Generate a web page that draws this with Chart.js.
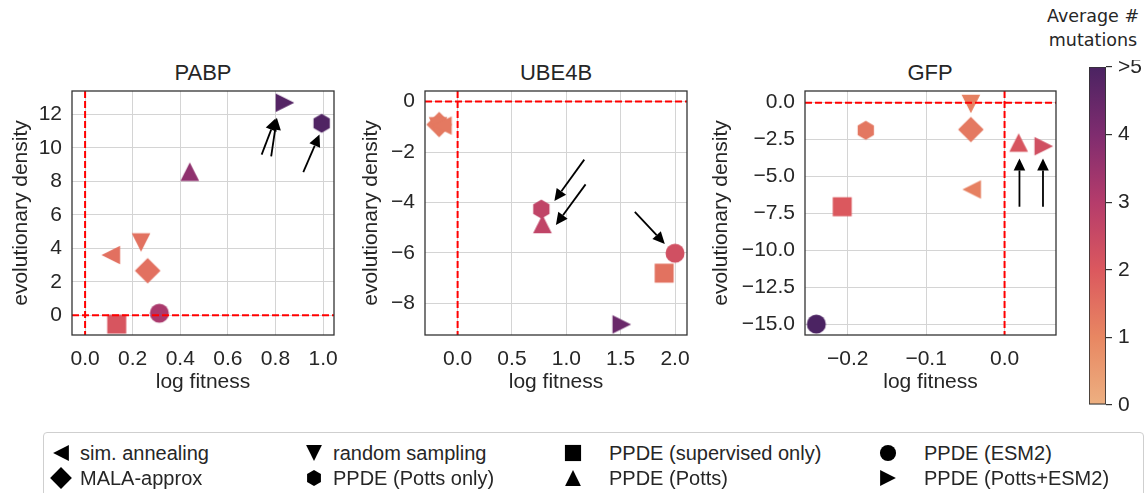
<!DOCTYPE html>
<html>
<head>
<meta charset="utf-8">
<script src="https://cdn.jsdelivr.net/npm/chart.js@4.4.1/dist/chart.umd.min.js"></script>
<style>
  body { margin: 0; background: #fff; width: 1147px; height: 493px; overflow: hidden; position: relative;
         font-family: "Liberation Sans", Arial, sans-serif; color: #262626; }
  canvas { position: absolute; }
  .ttl { position: absolute; width: 200px; text-align: center; font-size: 22px; line-height: 24px; }
  #cbtitle { position: absolute; left: 1033px; top: 4px; width: 120px; text-align: center;
             font-family: "DejaVu Sans", sans-serif; font-size: 17.5px; line-height: 24px; }
  #legend { position: absolute; left: 43px; top: 432px; width: 1099px; height: 80px;
            border: 1px solid #cfcfcf; border-radius: 4px; }
  .lt { position: absolute; font-size: 20px; line-height: 24px; white-space: nowrap; transform: translateY(-50%); }
</style>
</head>
<body>
<div class="ttl" style="left:103px;top:61px">PABP</div>
<div class="ttl" style="left:456px;top:61px">UBE4B</div>
<div class="ttl" style="left:830px;top:61px">GFP</div>
<div id="cbtitle">Average #<br>mutations</div>
<canvas id="c1" width="350" height="320" style="left:0;top:80px"></canvas>
<canvas id="c2" width="350" height="320" style="left:350px;top:80px"></canvas>
<canvas id="c3" width="370" height="320" style="left:700px;top:80px"></canvas>
<canvas id="cb" width="77" height="360" style="left:1070px;top:60px"></canvas>
<div id="legend"></div>

<script>
// methods, in legend order (row by row)
const methods = ['sim. annealing', 'random sampling', 'PPDE (supervised only)', 'PPDE (ESM2)',
                 'MALA-approx', 'PPDE (Potts only)', 'PPDE (Potts)', 'PPDE (Potts+ESM2)'];
const markers = ['triLeft', 'triDown', 'square', 'circle', 'diamond', 'hexagon', 'triUp', 'triRight'];

// PABP
const pabpFitness   = [0.108, 0.235, 0.133, 0.312, 0.263, 0.994, 0.44, 0.84];
const pabpDensity   = [3.6, 4.35, -0.53, 0.12, 2.66, 11.47, 8.58, 12.7];
const pabpMutations = [1.5, 1.45, 2.1, 3.2, 1.5, 4.9, 3.7, 4.8];
const pabpArrowFrom = [[0.742, 9.6], [0.782, 9.5], [0.917, 8.55]];
const pabpArrowTo   = [[0.80, 11.76], [0.806, 11.8], [0.985, 10.8]];

// UBE4B
const ube4bFitness   = [-0.14, -0.18, 1.90, 2.0, -0.17, 0.77, 0.78, 1.51];
const ube4bDensity   = [-0.95, -0.98, -6.8, -6.01, -0.91, -4.26, -4.85, -8.83];
const ube4bMutations = [1.3, 1.3, 1.45, 2.3, 1.3, 2.7, 2.7, 4.4];
const ube4bArrowFrom = [[1.165, -2.30], [1.177, -3.28], [1.63, -4.37]];
const ube4bArrowTo   = [[0.89, -3.94], [0.904, -4.89], [1.906, -5.64]];

// GFP
const gfpFitness   = [-0.042, -0.043, -0.207, -0.240, -0.043, -0.177, 0.018, 0.050];
const gfpDensity   = [-5.88, -0.09, -7.05, -15.0, -1.82, -1.87, -2.7, -2.95];
const gfpMutations = [1.15, 1.15, 2.0, 5.0, 1.3, 1.35, 2.1, 2.3];
const gfpArrowFrom = [[0.019, -7.05], [0.049, -7.05]];
const gfpArrowTo   = [[0.019, -3.78], [0.049, -3.78]];

// axis ticks
const pabpXTicks = [0, 0.2, 0.4, 0.6, 0.8, 1.0];
const pabpXLabels = ['0.0', '0.2', '0.4', '0.6', '0.8', '1.0'];
const pabpYTicks = [0, 2, 4, 6, 8, 10, 12];
const pabpYLabels = ['0', '2', '4', '6', '8', '10', '12'];
const ube4bXTicks = [0, 0.5, 1.0, 1.5, 2.0];
const ube4bXLabels = ['0.0', '0.5', '1.0', '1.5', '2.0'];
const ube4bYTicks = [-8, -6, -4, -2, 0];
const ube4bYLabels = ['\u22128', '\u22126', '\u22124', '\u22122', '0'];
const gfpXTicks = [-0.2, -0.1, 0.0];
const gfpXLabels = ['\u22120.2', '\u22120.1', '0.0'];
const gfpYTicks = [-15, -12.5, -10, -7.5, -5, -2.5, 0];
const gfpYLabels = ['\u221215.0', '\u221212.5', '\u221210.0', '\u22127.5', '\u22125.0', '\u22122.5', '0.0'];
const cbTicks = [0, 1, 2, 3, 4, 5];
const cbLabels = ['0', '1', '2', '3', '4', '>5'];

// colour map (flare-like), value 0..5
const cmapStops = [[237, 176, 129], [232, 135, 98], [219, 88, 94], [181, 60, 107], [127, 44, 111], [75, 35, 98]];
function cmap(v) {
  v = Math.max(0, Math.min(5, v));
  const i = Math.min(4, Math.floor(v)), t = v - i;
  const a = cmapStops[i], b = cmapStops[i + 1];
  return 'rgb(' + a.map((c, k) => Math.round(c + (b[k] - c) * t)).join(',') + ')';
}

const halfSize = { circle: 9.5, square: 9.5, diamond: 12.8, triUp: 9.3, triDown: 9.3, triLeft: 9.3, triRight: 9.3, hexagon: 9.4 };

function markerPath(ctx, shape, cx, cy, s) {
  ctx.beginPath();
  if (shape === 'circle') { ctx.arc(cx, cy, s, 0, Math.PI * 2); return; }
  let pts;
  if (shape === 'square') pts = [[-s, -s], [s, -s], [s, s], [-s, s]];
  else if (shape === 'diamond') pts = [[0, -s], [s, 0], [0, s], [-s, 0]];
  else if (shape === 'triUp') pts = [[0, -s], [s, s], [-s, s]];
  else if (shape === 'triDown') pts = [[0, s], [s, -s], [-s, -s]];
  else if (shape === 'triLeft') pts = [[-s, 0], [s, -s], [s, s]];
  else if (shape === 'triRight') pts = [[s, 0], [-s, -s], [-s, s]];
  else if (shape === 'hexagon') pts = [0, 1, 2, 3, 4, 5].map(k => {
    const a = -Math.PI / 2 + k * Math.PI / 3; return [s * Math.cos(a), s * Math.sin(a)];
  });
  pts.forEach((p, k) => k ? ctx.lineTo(cx + p[0], cy + p[1]) : ctx.moveTo(cx + p[0], cy + p[1]));
  ctx.closePath();
}

const markerCache = {};
function markerCanvas(shape, color, scale) {
  const key = shape + color + scale;
  if (markerCache[key]) return markerCache[key];
  const c = document.createElement('canvas');
  c.width = 32; c.height = 32;
  const g = c.getContext('2d');
  g.fillStyle = color;
  markerPath(g, shape, 16, 16, halfSize[shape] * scale);
  g.fill();
  markerCache[key] = c;
  return c;
}

function decorPlugin(from, to) {
  return {
    id: 'decor',
    afterDatasetsDraw(chart) {
      const { ctx, chartArea: a, scales: { x, y } } = chart;
      ctx.save();
      // zero reference lines
      ctx.strokeStyle = '#ff0000';
      ctx.lineWidth = 2;
      ctx.setLineDash([7, 3]);
      const x0 = x.getPixelForValue(0), y0 = y.getPixelForValue(0);
      ctx.beginPath();
      ctx.moveTo(x0, a.top); ctx.lineTo(x0, a.bottom);
      ctx.moveTo(a.left, y0); ctx.lineTo(a.right, y0);
      ctx.stroke();
      ctx.setLineDash([]);
      // arrows
      ctx.strokeStyle = '#000'; ctx.fillStyle = '#000'; ctx.lineWidth = 1.8;
      from.forEach((f, i) => {
        const x1 = x.getPixelForValue(f[0]), y1 = y.getPixelForValue(f[1]);
        const x2 = x.getPixelForValue(to[i][0]), y2 = y.getPixelForValue(to[i][1]);
        const ang = Math.atan2(y2 - y1, x2 - x1), hl = 12, hw = 5.8;
        const bx = x2 - hl * Math.cos(ang), by = y2 - hl * Math.sin(ang);
        ctx.beginPath(); ctx.moveTo(x1, y1); ctx.lineTo(bx, by); ctx.stroke();
        ctx.beginPath();
        ctx.moveTo(x2, y2);
        ctx.lineTo(bx + hw * Math.sin(ang), by - hw * Math.cos(ang));
        ctx.lineTo(bx - hw * Math.sin(ang), by + hw * Math.cos(ang));
        ctx.closePath(); ctx.fill();
      });
      // frame
      ctx.strokeStyle = '#333';
      ctx.lineWidth = 1.3;
      ctx.strokeRect(a.left, a.top, a.width, a.height);
      ctx.restore();
    }
  };
}

const tickFont = { family: '"Liberation Sans", Arial, sans-serif', size: 21 };
const labelFont = { family: '"Liberation Sans", Arial, sans-serif', size: 21 };
const textColor = '#262626';
const gridColor = '#d4d4d4';

function panel(id, fit, dens, mut, xr, yr, xt, xl, yt, yl, yWidth, padRight, from, to) {
  const datasets = methods.map((m, i) => ({
    label: m,
    data: [{ x: fit[i], y: dens[i] }],
    pointStyle: markerCanvas(markers[i], cmap(mut[i]), 1),
    pointRadius: 10,
    clip: false
  }));
  new Chart(document.getElementById(id), {
    type: 'scatter',
    data: { datasets },
    options: {
      responsive: false,
      animation: false,
      events: [],
      layout: { padding: { top: 9, right: padRight, bottom: 0, left: 0 } },
      plugins: { legend: { display: false }, tooltip: { enabled: false } },
      scales: {
        x: {
          type: 'linear', min: xr[0], max: xr[1],
          afterBuildTicks: ax => { ax.ticks = xt.map(v => ({ value: v })); },
          afterFit: ax => { ax.height = 65; ax.paddingLeft = 0; ax.paddingRight = 0; },
          ticks: { callback: (v, i) => xl[i], font: tickFont, color: textColor, padding: 12, autoSkip: false, maxRotation: 0 },
          grid: { color: gridColor, lineWidth: 1, drawTicks: false },
          border: { display: false },
          title: { display: true, text: 'log fitness', font: labelFont, color: textColor, padding: { top: 0, bottom: 5 } }
        },
        y: {
          type: 'linear', min: yr[0], max: yr[1],
          afterBuildTicks: ax => { ax.ticks = yt.map(v => ({ value: v })); },
          afterFit: ax => { ax.width = yWidth; ax.paddingTop = 0; ax.paddingBottom = 0; },
          ticks: { callback: (v, i) => yl[i], font: tickFont, color: textColor, padding: 10, autoSkip: false },
          grid: { color: gridColor, lineWidth: 1, drawTicks: false },
          border: { display: false },
          title: { display: true, text: 'evolutionary density', font: labelFont, color: textColor, padding: { top: 9, bottom: 0 } }
        }
      }
    },
    plugins: [decorPlugin(from, to)]
  });
}

panel('c1', pabpFitness, pabpDensity, pabpMutations, [-0.055, 1.046], [-1.18, 13.4],
      pabpXTicks, pabpXLabels, pabpYTicks, pabpYLabels, 72, 16, pabpArrowFrom, pabpArrowTo);
panel('c2', ube4bFitness, ube4bDensity, ube4bMutations, [-0.30, 2.11], [-9.25, 0.42],
      ube4bXTicks, ube4bXLabels, ube4bYTicks, ube4bYLabels, 75, 13, ube4bArrowFrom, ube4bArrowTo);
panel('c3', gfpFitness, gfpDensity, gfpMutations, [-0.2545, 0.0656], [-15.74, 0.79],
      gfpXTicks, gfpXLabels, gfpYTicks, gfpYLabels, 105, 14, gfpArrowFrom, gfpArrowTo);

// colour bar
new Chart(document.getElementById('cb'), {
  type: 'bar',
  data: {
    labels: [''],
    datasets: [{
      data: [5],
      barPercentage: 1, categoryPercentage: 1,
      borderWidth: 1.2, borderColor: '#333', borderSkipped: false,
      backgroundColor: c => {
        const a = c.chart.chartArea;
        if (!a) return cmap(2.5);
        const g = c.chart.ctx.createLinearGradient(0, a.bottom, 0, a.top);
        cmapStops.forEach((s, k) => g.addColorStop(k / 5, 'rgb(' + s.join(',') + ')'));
        return g;
      }
    }]
  },
  options: {
    responsive: false,
    animation: false,
    events: [],
    layout: { padding: { top: 7, right: 0, bottom: 15, left: 19 } },
    plugins: { legend: { display: false }, tooltip: { enabled: false } },
    scales: {
      x: { display: false },
      y: {
        position: 'right', min: 0, max: 5,
        afterBuildTicks: ax => { ax.ticks = cbTicks.map(v => ({ value: v })); },
        afterFit: ax => { ax.width = 41; ax.paddingTop = 0; ax.paddingBottom = 0; },
        ticks: { callback: (v, i) => cbLabels[i], font: tickFont, color: textColor, padding: 6 },
        grid: { drawOnChartArea: false, drawTicks: true, tickLength: 6, color: '#333', lineWidth: 1.2 },
        border: { display: false }
      }
    }
  }
});

// legend
const legend = document.getElementById('legend');
const colMarkerX = [17, 270, 529, 844];
const colTextX = [36, 289, 565, 880];
const rowY = [20, 45];
methods.forEach((m, i) => {
  const col = i % 4, row = Math.floor(i / 4);
  const mk = markerCanvas(markers[i], '#000', 0.85);
  const c = document.createElement('canvas');
  c.width = 32; c.height = 32;
  c.getContext('2d').drawImage(mk, 0, 0);
  c.style.left = (colMarkerX[col] - 16) + 'px';
  c.style.top = (rowY[row] - 16) + 'px';
  legend.appendChild(c);
  const t = document.createElement('div');
  t.className = 'lt';
  t.textContent = m;
  t.style.left = colTextX[col] + 'px';
  t.style.top = rowY[row] + 'px';
  legend.appendChild(t);
});
</script>
</body>
</html>
